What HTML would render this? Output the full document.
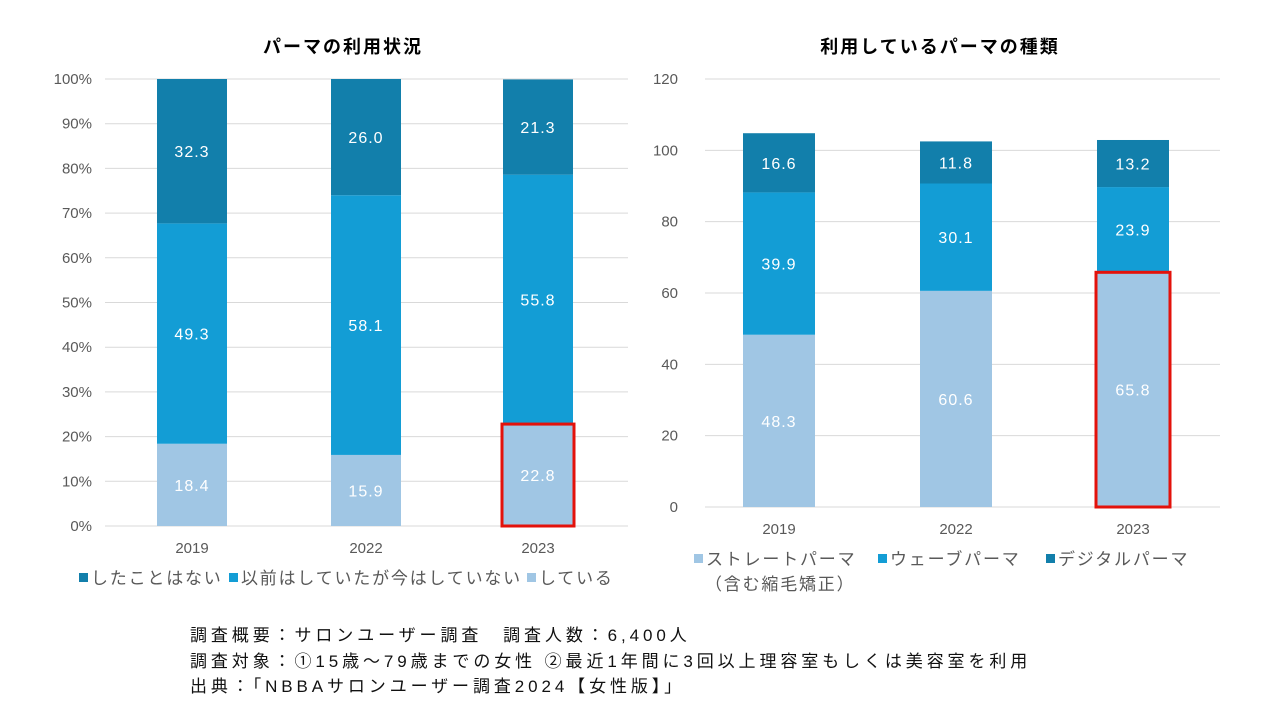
<!DOCTYPE html>
<html><head><meta charset="utf-8">
<style>
body{margin:0;width:1280px;height:720px;background:#fff;overflow:hidden;font-family:"Liberation Sans","Noto Sans CJK JP",sans-serif;}
svg text{font-family:"Liberation Sans","Noto Sans CJK JP",sans-serif;}
.foot{position:absolute;left:190px;font-size:17px;color:#111;white-space:nowrap;letter-spacing:3.9px}
</style></head><body>
<svg id="c" width="1280" height="720"></svg>
<div class="foot" style="top:621px">調査概要：サロンユーザー調査　調査人数：6,400人</div>
<div class="foot" style="top:647px">調査対象：①15歳～79歳までの女性 ②最近1年間に3回以上理容室もしくは美容室を利用</div>
<div class="foot" style="top:672px">出典：「NBBAサロンユーザー調査2024【女性版】」</div>
<script>
const years=["2019","2022","2023"];
const leftDoing=[18.4,15.9,22.8];
const leftBefore=[49.3,58.1,55.8];
const leftNever=[32.3,26.0,21.3];
const rightStraight=[48.3,60.6,65.8];
const rightWave=[39.9,30.1,23.9];
const rightDigital=[16.6,11.8,13.2];
const leftTicks=["0%","10%","20%","30%","40%","50%","60%","70%","80%","90%","100%"];
const rightTicks=["0","20","40","60","80","100","120"];
const C={light:"#a0c6e4",mid:"#139dd5",dark:"#127fab"};
const svg=document.getElementById('c');
const NS="http://www.w3.org/2000/svg";
function mk(t,a,txt){const e=document.createElementNS(NS,t);for(const k in a)e.setAttribute(k,a[k]);if(txt!==undefined)e.textContent=txt;svg.appendChild(e);return e;}

function chart(o){
  const y=v=>o.y0-(v/o.max)*(o.y0-o.y1);
  const x=i=>o.cx[i];
  o.ticks.forEach((t,i)=>{
    const v=i*o.step;
    const g=mk('line',{x1:o.xl,x2:o.xr,y1:y(v),y2:y(v),stroke:"#d9d9d9","stroke-width":1});
    
    const l=mk('text',{x:o.lx,y:y(v)+5,"text-anchor":"end","font-size":15,fill:"#595959"},t);
    
  });
  years.forEach((yr,i)=>{
    let base=0;
    o.series.forEach(s=>{
      const v=s.vals[i];
      const r=mk('rect',{x:x(i)-o.bw/2,y:y(base+v),width:o.bw,height:y(base)-y(base+v),fill:s.color});
      
      const t=mk('text',{x:x(i),y:(y(base)+y(base+v))/2+6,"text-anchor":"middle","font-size":16,fill:"#fff","letter-spacing":1},v.toFixed(1));
      
      base+=v;
    });
    const xl=mk('text',{x:x(i),y:o.y0+27,"text-anchor":"middle","font-size":15,fill:"#595959"},yr);
    
  });
  const hv=o.series[0].vals[2];
  const hb=mk('rect',{x:x(2)-o.bw/2-1,y:y(hv),width:o.bw+2,height:y(0)-y(hv),fill:"none",stroke:"#e3120b","stroke-width":3});
  
  const tt=mk('text',{x:o.tx,y:53,"text-anchor":"middle","font-size":18,"font-weight":"bold",fill:"#000","letter-spacing":2},o.title);
  
}
chart({title:"パーマの利用状況",tx:343,xl:105,xr:628,y0:526,y1:79,max:100,step:10,ticks:leftTicks,lx:92,cx:[192,366,538],bw:70,
  series:[{name:"doing",vals:leftDoing,color:C.light},{name:"before",vals:leftBefore,color:C.mid},{name:"never",vals:leftNever,color:C.dark}]});
chart({title:"利用しているパーマの種類",tx:940,xl:705,xr:1220,y0:507,y1:79,max:120,step:20,ticks:rightTicks,lx:678,cx:[779,956,1133],bw:72,
  series:[{name:"straight",vals:rightStraight,color:C.light},{name:"wave",vals:rightWave,color:C.mid},{name:"digital",vals:rightDigital,color:C.dark}]});
function leg(x,y,color,label,name){
  const r=mk('rect',{x:x,y:y-11,width:9,height:9,fill:color});
  
  const t=mk('text',{x:x+12,y:y,"font-size":17,fill:"#595959","letter-spacing":1.8},label);
  
}
leg(79,584,C.dark,"したことはない","legend-never");
leg(229,584,C.mid,"以前はしていたが今はしていない","legend-before");
leg(527,584,C.light,"している","legend-doing");
leg(694,565,C.light,"ストレートパーマ","legend-straight");
const t2=mk('text',{x:705,y:590,"font-size":17,fill:"#595959","letter-spacing":1.8},"（含む縮毛矯正）");

leg(878,565,C.mid,"ウェーブパーマ","legend-wave");
leg(1046,565,C.dark,"デジタルパーマ","legend-digital");
</script>
</body></html>
